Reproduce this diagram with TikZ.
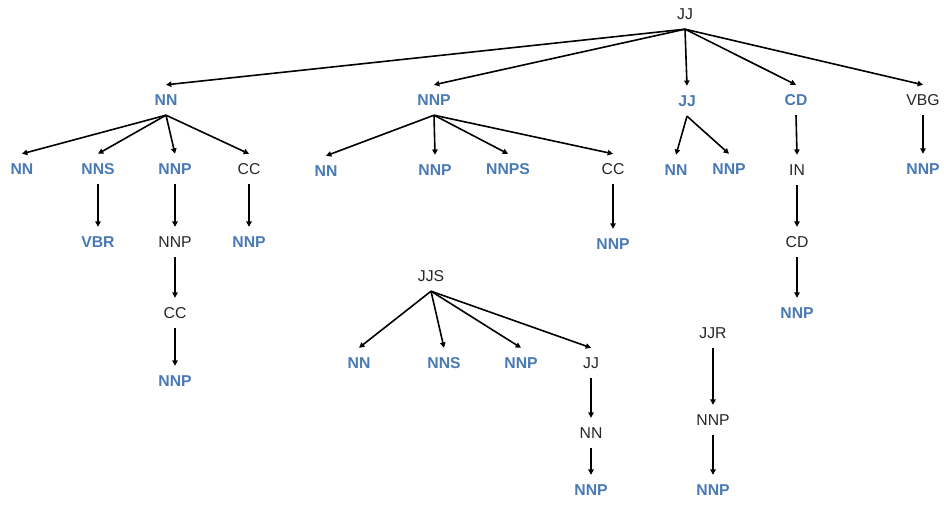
\documentclass[tikz,border=0pt]{standalone}
\usepackage{fontspec}
\setmainfont{Liberation Sans}
\usetikzlibrary{arrows.meta}
\definecolor{tagblue}{HTML}{4A7AB4}
\definecolor{tagblack}{HTML}{262626}
\begin{document}
\begin{tikzpicture}[x=0.75pt,y=-0.75pt,
  tag/.style={inner sep=0pt, outer xsep=0pt, outer ysep=7.2pt, text height=8.4pt, text depth=0pt},
  bt/.style={tag, text=tagblue, font=\fontsize{11.8}{13}\selectfont\bfseries},
  kt/.style={tag, text=tagblack, font=\fontsize{11.8}{13}\selectfont},
  arr/.style={-{Triangle[length=4pt,width=4pt]}, line width=1.2pt, draw=black}]
\fill[white] (0,0) rectangle (944,505);
\useasboundingbox (0,0) rectangle (944,505);

% root
\node[kt] (root) at (685,14) {JJ};
% level 1
\node[bt] (a1) at (166,100) {NN};
\node[bt] (a2) at (434,100) {NNP};
\node[bt] (a3) at (687,101) {JJ};
\node[bt] (a4) at (796,100) {CD};
\node[kt] (a5) at (923,100) {VBG};
% level 2
\node[bt] (b1) at (22,169) {NN};
\node[bt] (b2) at (98,169) {NNS};
\node[bt] (b3) at (175,169) {NNP};
\node[kt] (b4) at (249,169) {CC};
\node[bt] (b5) at (326,171) {NN};
\node[bt] (b6) at (435,170) {NNP};
\node[bt] (b7) at (508,169) {NNPS};
\node[kt] (b8) at (613,169) {CC};
\node[bt] (b9) at (676,170) {NN};
\node[bt] (b10) at (729,169) {NNP};
\node[kt] (b11) at (797,170) {IN};
\node[bt] (b12) at (923,169) {NNP};
% level 3
\node[bt] (c1) at (98,242) {VBR};
\node[kt] (c2) at (175,242) {NNP};
\node[bt] (c3) at (249,242) {NNP};
\node[bt] (c4) at (613,244) {NNP};
\node[kt] (c5) at (797,242) {CD};
% level 4-5
\node[kt] (d1) at (175,313) {CC};
\node[bt] (d2) at (797,313) {NNP};
\node[bt] (e1) at (175,381) {NNP};
% JJS subtree
\node[kt] (jjs) at (431,276) {JJS};
\node[bt] (j1) at (359,363) {NN};
\node[bt] (j2) at (444,363) {NNS};
\node[bt] (j3) at (521,363) {NNP};
\node[kt] (j4) at (591,363) {JJ};
\node[kt] (j5) at (591,433) {NN};
\node[bt] (j6) at (591,490) {NNP};
% JJR subtree
\node[kt] (jjr) at (713,333) {JJR};
\node[kt] (r1) at (713,420) {NNP};
\node[bt] (r2) at (713,490) {NNP};

% edges
\foreach \c in {a1,a2,a3,a4,a5} \draw[arr] (root.south) -- (\c.north);
\foreach \c in {b1,b2,b3,b4} \draw[arr] (a1.south) -- (\c.north);
\foreach \c in {b5,b6,b7,b8} \draw[arr] (a2.south) -- (\c.north);
\foreach \c in {b9,b10} \draw[arr] (a3.south) -- (\c.north);
\draw[arr] (a4.south) -- (b11.north);
\draw[arr] (a5.south) -- (b12.north);
\draw[arr] (b2.south) -- (c1.north);
\draw[arr] (b3.south) -- (c2.north);
\draw[arr] (b4.south) -- (c3.north);
\draw[arr] (b8.south) -- (c4.north);
\draw[arr] (b11.south) -- (c5.north);
\draw[arr] (c2.south) -- (d1.north);
\draw[arr] (c5.south) -- (d2.north);
\draw[arr] (d1.south) -- (e1.north);
\foreach \c in {j1,j2,j3,j4} \draw[arr] (jjs.south) -- (\c.north);
\draw[arr] (j4.south) -- (j5.north);
\draw[arr] (j5.south) -- (j6.north);
\draw[arr] (jjr.south) -- (r1.north);
\draw[arr] (r1.south) -- (r2.north);
\end{tikzpicture}
\end{document}
